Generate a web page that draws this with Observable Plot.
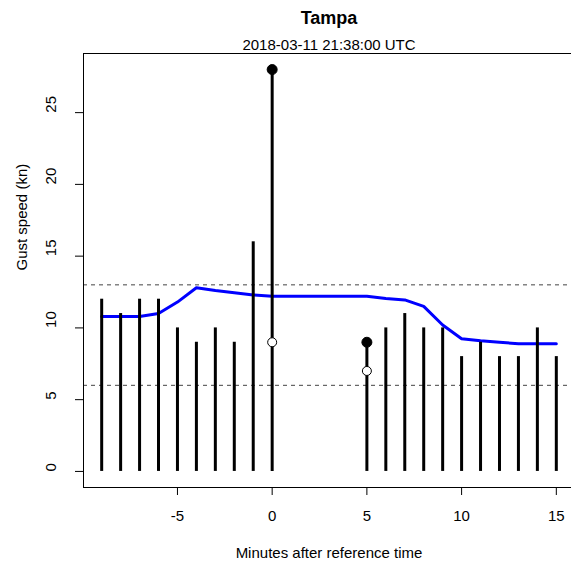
<!DOCTYPE html>
<html>
<head>
<meta charset="utf-8">
<script src="https://cdn.jsdelivr.net/npm/d3@7"></script>
<script src="https://cdn.jsdelivr.net/npm/@observablehq/plot@0.6"></script>
<style>
  html, body { margin: 0; padding: 0; background: white; overflow: hidden; }
</style>
</head>
<body>
<div id="chart"></div>
<script>
// Observed gusts (minutes after reference time)
const minutes = [-9, -8, -7, -6, -5, -4, -3, -2, -1, 0, 5, 6, 7, 8, 9, 10, 11, 12, 13, 14, 15];
const gusts   = [12, 11, 12, 12, 10,  9, 10,  9, 16, 28, 9, 10, 11, 10, 10,  8,  9,  8,  8, 10,  8];

// Running mean (blue line)
const avgMinutes = [-9, -8, -7, -6, -5, -4, -3, -2, -1, 0, 1, 2, 3, 4, 5, 6, 7, 8, 9, 10, 11, 12, 13, 14, 15];
const avgGusts   = [10.8, 10.8, 10.8, 11.0, 11.8, 12.8, 12.6, 12.45, 12.3, 12.2, 12.2, 12.2, 12.2, 12.2, 12.2, 12.05, 11.95, 11.5, 10.2, 9.25, 9.1, 9.0, 8.9, 8.9, 8.9];

// Highlighted points
const filledX = [0, 5];
const filledY = [28, 9];
const openX = [0, 5];
const openY = [9, 7];

// Threshold lines
const thresholds = [13, 6];

// Axis ticks and labels
const xTicks = [-5, 0, 5, 10, 15];
const yTicks = [0, 5, 10, 15, 20, 25];
const title = "Tampa";
const subtitle = "2018-03-11 21:38:00 UTC";
const xLabel = "Minutes after reference time";
const yLabel = "Gust speed (kn)";

const gustData = minutes.map((m, i) => ({m, g: gusts[i]}));
const avgData = avgMinutes.map((m, i) => ({m, g: avgGusts[i]}));
const filled = filledX.map((m, i) => ({m, g: filledY[i]}));
const open = openX.map((m, i) => ({m, g: openY[i]}));

const font = "'Liberation Sans', Arial, Helvetica, sans-serif";

const chart = Plot.plot({
  width: 571,
  height: 563,
  marginLeft: 83,
  marginTop: 53,
  marginBottom: 76,
  marginRight: -3,
  x: {domain: [-9.96, 15.96]},
  y: {domain: [-1.12, 29.12]},
  style: {fontFamily: font, fontSize: "15px", background: "white", color: "black", overflow: "hidden"},
  marks: [
    Plot.ruleY(thresholds, {y: d => d, stroke: "#444", strokeWidth: 1, strokeDasharray: "4,4"}),
    Plot.line(avgData, {x: "m", y: "g", stroke: "#0000ff", strokeWidth: 3}),
    Plot.ruleX(gustData, {x: "m", y1: 0, y2: "g", stroke: "black", strokeWidth: 3}),
    Plot.dot(filled, {x: "m", y: "g", r: 5, fill: "black", stroke: "black", strokeWidth: 1}),
    Plot.dot(open, {x: "m", y: "g", r: 4.5, fill: "white", stroke: "black", strokeWidth: 1}),
    Plot.frame({stroke: "black", strokeWidth: 1}),
    Plot.axisX({ticks: xTicks, tickSize: 8, tickFormat: () => "", label: null}),
    Plot.axisY({ticks: yTicks, tickSize: 8, tickFormat: () => "", label: null}),
    Plot.text(xTicks, {x: d => d, text: d => String(d), frameAnchor: "bottom", dy: 33.5, lineAnchor: "bottom", fontSize: 15, fill: "black"}),
    Plot.text(yTicks, {y: d => d, text: d => String(d), frameAnchor: "left", dx: -28, rotate: -90, lineAnchor: "bottom", fontSize: 15, fill: "black"}),
    Plot.text([xLabel], {text: d => d, frameAnchor: "bottom", dy: 70, lineAnchor: "bottom", fontSize: 15, fill: "black"}),
    Plot.text([yLabel], {text: d => d, frameAnchor: "left", dx: -61, rotate: -90, lineAnchor: "middle", fontSize: 15, fill: "black"}),
    Plot.text([title], {text: d => d, frameAnchor: "top", dy: -30, lineAnchor: "bottom", fontSize: 18, fontWeight: "bold", fill: "black"}),
    Plot.text([subtitle], {text: d => d, frameAnchor: "top", dy: -4, lineAnchor: "bottom", fontSize: 15, fill: "black"})
  ]
});

document.getElementById("chart").appendChild(chart);
</script>
</body>
</html>
